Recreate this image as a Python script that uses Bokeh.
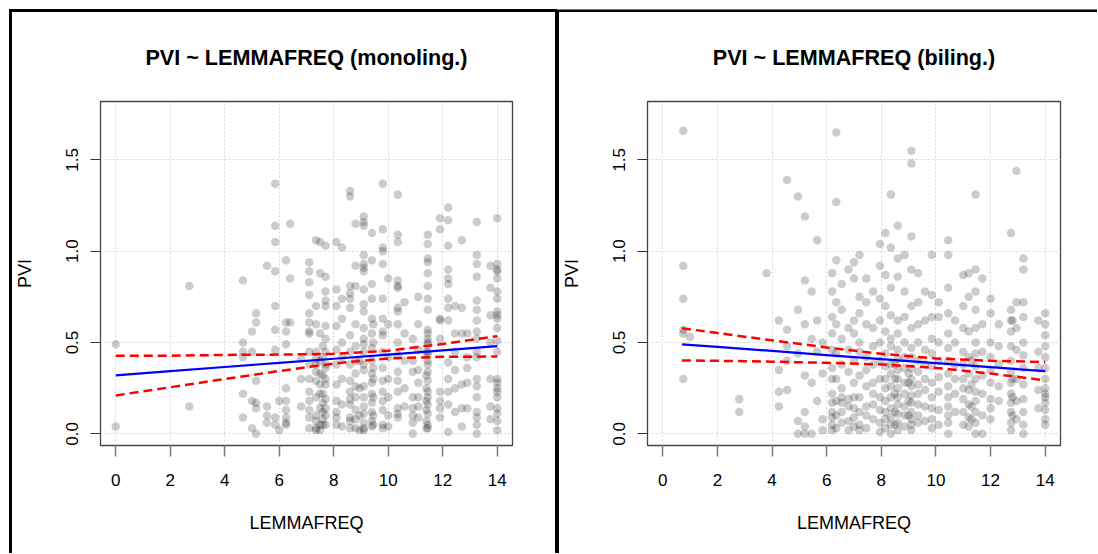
from bokeh.plotting import figure
from bokeh.layouts import row
from bokeh.models import Range1d, FixedTicker, NumeralTickFormatter
from bokeh.embed import file_html
from bokeh.resources import INLINE

FONT = "Liberation Sans"

# ---------------- data ----------------
# monolingual panel: LEMMAFREQ columns and the PVI values in each column
mono_col_x = [0.0, 2.7, 4.67, 5.0, 5.15, 5.55, 5.85, 6.0, 6.25, 6.4, 6.8,
              7.1, 7.35, 7.5, 7.7, 8.1, 8.3, 8.6, 8.8, 9.1, 9.4, 9.8, 10.0,
              10.35, 10.6, 10.9, 11.1, 11.45, 11.9, 12.2, 12.45, 12.7, 12.9,
              13.25, 13.75, 14.0, 7.6, 9.45, 11.4, 8.95]
mono_col_y = [
    [0.49, 0.04],
    [0.81, 0.15],
    [0.84, 0.50, 0.45, 0.42, 0.22, 0.09],
    [0.56, 0.45, 0.18, 0.03],
    [0.66, 0.61, 0.29, 0.17, 0.14, 0.0],
    [0.92, 0.15, 0.10, 0.06],
    [1.37, 1.14, 1.05, 0.89, 0.70, 0.57, 0.46, 0.09, 0.05],
    [0.18, 0.02],
    [0.95, 0.61, 0.56, 0.49, 0.25, 0.18, 0.13, 0.09, 0.05, 0.06],
    [1.15, 0.85, 0.61],
    [0.41, 0.15, 0.30],
    [0.94, 0.89, 0.83, 0.76, 0.66, 0.61, 0.56, 0.55, 0.45, 0.38, 0.30, 0.23, 0.18, 0.13, 0.09, 0.03],
    [1.06, 0.70, 0.60, 0.45, 0.41, 0.38, 0.34, 0.29, 0.20, 0.10, 0.07, 0.03, 0.02],
    [1.05, 0.88, 0.55, 0.40, 0.33, 0.27, 0.22, 0.14, 0.05, 0.02],
    [1.03, 0.86, 0.78, 0.73, 0.70, 0.59, 0.52, 0.45, 0.38, 0.36, 0.30, 0.27, 0.19, 0.14, 0.10, 0.05],
    [1.05, 0.79, 0.70, 0.59, 0.46, 0.38, 0.27, 0.18, 0.12, 0.09, 0.05],
    [1.02, 0.74, 0.63, 0.50, 0.42, 0.30, 0.16, 0.04],
    [1.33, 1.30, 0.81, 0.77, 0.74, 0.69, 0.54, 0.45, 0.38, 0.29, 0.23, 0.19, 0.16, 0.09, 0.07, 0.03],
    [1.15, 0.92, 0.81, 0.60, 0.48, 0.40, 0.33, 0.26, 0.20, 0.13, 0.08, 0.03],
    [1.19, 1.16, 1.14, 0.98, 0.93, 0.91, 0.89, 0.79, 0.71, 0.67, 0.58, 0.52, 0.49, 0.45, 0.38, 0.35, 0.26, 0.20, 0.15, 0.11, 0.06, 0.03, 0.02],
    [1.10, 0.95, 0.82, 0.74, 0.63, 0.55, 0.47, 0.40, 0.33, 0.28, 0.22, 0.17, 0.12, 0.07, 0.04],
    [1.37, 1.12, 1.02, 1.00, 0.93, 0.74, 0.63, 0.56, 0.54, 0.45, 0.36, 0.29, 0.23, 0.18, 0.13, 0.05, 0.03],
    [0.85, 0.60, 0.42, 0.30, 0.20, 0.10, 0.04],
    [1.31, 1.09, 1.05, 0.84, 0.81, 0.80, 0.69, 0.67, 0.60, 0.50, 0.43, 0.34, 0.29, 0.23, 0.14, 0.11, 0.09],
    [0.72, 0.55, 0.40, 0.25, 0.15],
    [0.52, 0.40, 0.34, 0.20, 0.14, 0.10, 0.06, 0.0],
    [0.75, 0.60, 0.46, 0.35, 0.28, 0.20, 0.15, 0.09],
    [1.09, 1.04, 0.96, 0.94, 0.88, 0.81, 0.74, 0.68, 0.57, 0.55, 0.52, 0.50, 0.49, 0.45, 0.43, 0.40, 0.38, 0.34, 0.29, 0.23, 0.20, 0.16, 0.11, 0.05, 0.03],
    [1.18, 1.12, 0.63, 0.62, 0.52, 0.23, 0.18, 0.14, 0.09],
    [1.24, 1.17, 1.03, 0.90, 0.85, 0.82, 0.74, 0.69, 0.62, 0.39, 0.30, 0.23, 0.16, 0.01],
    [0.70, 0.55, 0.45, 0.35, 0.25, 0.12],
    [1.06, 0.69, 0.55, 0.27, 0.14, 0.04],
    [0.55, 0.42, 0.36, 0.28, 0.14],
    [1.16, 0.98, 0.93, 0.86, 0.73, 0.68, 0.62, 0.56, 0.52, 0.45, 0.42, 0.30, 0.26, 0.20, 0.12, 0.09, 0.05, 0.0],
    [0.92, 0.80, 0.65, 0.50, 0.30, 0.15, 0.08],
    [1.18, 0.93, 0.90, 0.89, 0.85, 0.78, 0.74, 0.67, 0.65, 0.63, 0.58, 0.51, 0.45, 0.30, 0.28, 0.25, 0.23, 0.20, 0.14, 0.11, 0.07, 0.02],
    [0.05, 0.08, 0.12, 0.17, 0.22, 0.32, 0.42, 0.48],
    [0.05, 0.10, 0.20, 0.30, 0.36, 0.50, 0.60],
    [0.03, 0.07, 0.13, 0.18, 0.25, 0.32, 0.45],
    [0.02, 0.10, 0.25, 0.40],
]

# bilingual panel
bil_col_x = [0.75, 1.0, 2.8, 3.8, 4.25, 4.55, 4.95, 5.2, 5.45, 5.65, 5.85,
             6.2, 6.35, 6.55, 6.8, 7.0, 7.2, 7.45, 7.7, 7.95, 8.15, 8.35,
             8.6, 8.85, 9.1, 9.35, 9.6, 9.85, 10.1, 10.45, 10.7, 11.0, 11.2,
             11.45, 11.7, 12.0, 12.3, 12.75, 12.95, 13.2, 13.75, 14.0,
             8.5, 9.0, 11.3, 12.8]
bil_col_y = [
    [1.66, 0.92, 0.74, 0.57, 0.55, 0.30],
    [0.53],
    [0.19, 0.12],
    [0.88],
    [0.62, 0.35, 0.23, 0.15],
    [1.39, 0.57, 0.48, 0.40, 0.24],
    [1.30, 0.68, 0.44, 0.07, 0.0],
    [1.19, 0.84, 0.60, 0.32, 0.12, 0.04, 0.0],
    [0.78, 0.52, 0.28, 0.0],
    [1.06, 0.62, 0.45, 0.18],
    [0.50, 0.33, 0.08, 0.02],
    [0.88, 0.78, 0.64, 0.55, 0.46, 0.36, 0.30, 0.22, 0.17, 0.12, 0.09, 0.05, 0.02],
    [1.65, 1.27, 0.95, 0.72, 0.60, 0.44, 0.30, 0.18, 0.10, 0.03],
    [0.82, 0.68, 0.52, 0.38, 0.25, 0.20, 0.17, 0.12, 0.06],
    [0.90, 0.58, 0.46, 0.34, 0.19, 0.15, 0.07, 0.02],
    [0.94, 0.85, 0.62, 0.55, 0.40, 0.28, 0.20, 0.14, 0.09, 0.04],
    [0.98, 0.75, 0.66, 0.50, 0.45, 0.32, 0.20, 0.12, 0.05, 0.02],
    [0.85, 0.72, 0.60, 0.42, 0.35, 0.26, 0.15, 0.10, 0.03],
    [0.78, 0.58, 0.48, 0.38, 0.28, 0.22, 0.16, 0.08],
    [1.04, 0.92, 0.74, 0.62, 0.50, 0.40, 0.30, 0.20, 0.13, 0.06, 0.01],
    [1.10, 0.87, 0.70, 0.56, 0.44, 0.37, 0.30, 0.25, 0.18, 0.12, 0.08, 0.03],
    [1.31, 1.02, 0.80, 0.65, 0.52, 0.48, 0.38, 0.33, 0.26, 0.20, 0.14, 0.09, 0.05, 0.0],
    [1.14, 0.96, 0.86, 0.62, 0.55, 0.46, 0.41, 0.35, 0.30, 0.25, 0.20, 0.16, 0.11, 0.06, 0.02],
    [0.98, 0.78, 0.64, 0.50, 0.42, 0.36, 0.28, 0.22, 0.15, 0.10, 0.04],
    [1.55, 1.48, 1.08, 0.90, 0.70, 0.58, 0.47, 0.42, 0.36, 0.30, 0.26, 0.21, 0.17, 0.12, 0.08, 0.05, 0.02],
    [0.88, 0.72, 0.60, 0.50, 0.40, 0.34, 0.27, 0.22, 0.16, 0.10, 0.06],
    [0.78, 0.62, 0.46, 0.38, 0.30, 0.24, 0.15, 0.07],
    [0.98, 0.76, 0.64, 0.52, 0.44, 0.37, 0.28, 0.20, 0.14, 0.08, 0.03],
    [0.72, 0.64, 0.50, 0.40, 0.31, 0.23, 0.13, 0.05],
    [1.06, 0.98, 0.80, 0.66, 0.55, 0.47, 0.40, 0.33, 0.26, 0.20, 0.15, 0.10, 0.06, 0.0],
    [0.62, 0.50, 0.38, 0.30, 0.22, 0.12],
    [0.87, 0.70, 0.58, 0.45, 0.38, 0.30, 0.25, 0.19, 0.12, 0.05],
    [0.88, 0.75, 0.56, 0.42, 0.33, 0.24, 0.16, 0.09, 0.04],
    [1.31, 0.90, 0.78, 0.68, 0.58, 0.50, 0.44, 0.37, 0.30, 0.23, 0.18, 0.12, 0.06, 0.0],
    [0.85, 0.60, 0.45, 0.32, 0.22, 0.10, 0.0],
    [0.74, 0.66, 0.50, 0.42, 0.35, 0.28, 0.19, 0.14, 0.08],
    [0.60, 0.48, 0.38, 0.26, 0.18],
    [1.10, 0.68, 0.62, 0.56, 0.48, 0.40, 0.34, 0.28, 0.22, 0.17, 0.12, 0.06, 0.02],
    [1.44, 0.72, 0.58, 0.46, 0.30, 0.18, 0.08],
    [0.96, 0.90, 0.72, 0.64, 0.50, 0.43, 0.36, 0.27, 0.19, 0.12, 0.05, 0.0],
    [0.62, 0.45, 0.36, 0.24, 0.14],
    [0.66, 0.60, 0.54, 0.48, 0.42, 0.36, 0.30, 0.25, 0.22, 0.20, 0.17, 0.13, 0.08, 0.05],
    [0.05, 0.12, 0.22, 0.30, 0.38],
    [0.10, 0.18, 0.28, 0.33],
    [0.08, 0.15, 0.27, 0.40],
    [0.10, 0.20, 0.30, 0.62],
]

# regression line and 95% band, read at a few LEMMAFREQ values
mono_fit_x = [0, 2, 4, 6, 8, 10, 12, 14]
mono_fit = [0.320, 0.343, 0.366, 0.389, 0.411, 0.434, 0.457, 0.480]
mono_upper = [0.427, 0.428, 0.432, 0.434, 0.438, 0.455, 0.492, 0.535]
mono_lower = [0.210, 0.255, 0.300, 0.344, 0.385, 0.413, 0.422, 0.423]

bil_fit_x = [0.7, 2, 4, 6, 8, 10, 12, 14]
bil_fit = [0.490, 0.476, 0.454, 0.431, 0.409, 0.387, 0.365, 0.343]
bil_upper = [0.578, 0.552, 0.512, 0.473, 0.438, 0.413, 0.400, 0.393]
bil_lower = [0.402, 0.400, 0.395, 0.389, 0.380, 0.361, 0.330, 0.293]

x_ticks = [0, 2, 4, 6, 8, 10, 12, 14]
y_ticks = [0.0, 0.5, 1.0, 1.5]

titles = ["PVI ~ LEMMAFREQ (monoling.)", "PVI ~ LEMMAFREQ (biling.)"]


def flatten(cx, cy):
    xs, ys = [], []
    for x, col in zip(cx, cy):
        for y in col:
            xs.append(x)
            ys.append(y)
    return xs, ys


def panel(title, cx, cy, fx, fit, up, lo, width, bl, br, bt, bb, shadow):
    p = figure(width=width, height=553,
               x_range=Range1d(-0.56, 14.56), y_range=Range1d(-0.064, 1.82),
               output_backend="svg", toolbar_location=None,
               min_border_left=bl, min_border_right=br,
               min_border_top=bt, min_border_bottom=bb,
               styles={"box-shadow": shadow})
    p.background_fill_color = "white"
    p.border_fill_color = None
    p.outline_line_color = "#444444"
    p.outline_line_width = 1.3

    p.title.text = title
    p.title.align = "center"
    p.title.text_font = FONT
    p.title.text_font_size = "21.6px"
    p.title.text_font_style = "bold"
    p.title.text_color = "black"
    p.title.standoff = 64

    p.xgrid.ticker = FixedTicker(ticks=x_ticks)
    p.ygrid.ticker = FixedTicker(ticks=y_ticks)
    for g in (p.xgrid, p.ygrid):
        g.grid_line_color = "#d6d6d6"
        g.grid_line_dash = "2 2"
        g.grid_line_width = 1

    p.xaxis.ticker = FixedTicker(ticks=x_ticks)
    p.yaxis.ticker = FixedTicker(ticks=y_ticks)
    p.yaxis.formatter = NumeralTickFormatter(format="0.0")
    for ax in (p.xaxis, p.yaxis):
        ax.axis_line_color = None
        ax.major_tick_in = 0
        ax.minor_tick_out = 0
        ax.minor_tick_in = 0
        ax.major_label_text_font = FONT
        ax.major_label_text_font_size = "17px"
        ax.major_label_text_color = "black"
        ax.axis_label_text_font = FONT
        ax.axis_label_text_font_size = "18px"
        ax.axis_label_text_font_style = "normal"
        ax.axis_label_text_color = "black"
    p.xaxis.major_tick_out = 11
    p.xaxis.major_tick_line_color = "#7a7a7a"
    p.xaxis.major_tick_line_width = 1.5
    p.xaxis.major_label_standoff = 17
    p.xaxis.axis_label = "LEMMAFREQ"
    p.xaxis.axis_label_standoff = 24
    p.yaxis.major_tick_out = 10
    p.yaxis.major_tick_line_color = "#333333"
    p.yaxis.major_label_orientation = "vertical"
    p.yaxis.major_label_standoff = 12
    p.yaxis.axis_label = "PVI"
    p.yaxis.axis_label_standoff = 29

    xs, ys = flatten(cx, cy)
    p.scatter(xs, ys, size=8.5, fill_color="black", fill_alpha=0.2, line_color=None)
    p.line(fx, fit, line_color="blue", line_width=2.2)
    p.line(fx, up, line_color="red", line_width=2.5, line_dash="9 5")
    p.line(fx, lo, line_color="red", line_width=2.5, line_dash="9 5")
    return p


left_shadow = ("inset 9px 9px 0 0 white, inset 12px 12px 0 0 black, "
               "inset -2px 0 0 0 black")
right_shadow = ("inset 0 9.5px 0 0 white, inset 2px 0 0 0 black, "
                "inset 0 12px 0 0 black")

p1 = panel(titles[0], mono_col_x, mono_col_y, mono_fit_x, mono_fit, mono_upper, mono_lower,
           557, 100, 45, 99, 108, left_shadow)
p2 = panel(titles[1], bil_col_x, bil_col_y, bil_fit_x, bil_fit, bil_upper, bil_lower,
           540, 90, 37, 101, 107, right_shadow)

layout = row(p1, p2)
open("out.html", "w").write(file_html(layout, INLINE))
